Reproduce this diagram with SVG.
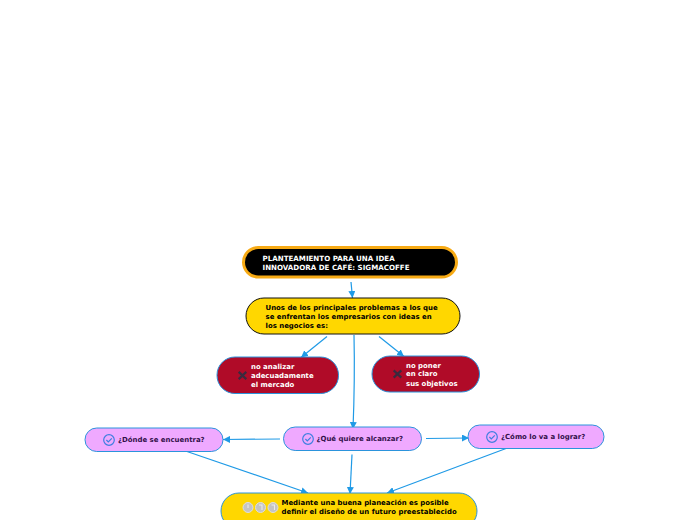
<svg xmlns="http://www.w3.org/2000/svg" width="696" height="520" viewBox="0 0 696 520">
<style>
text{font-family:"DejaVu Sans",sans-serif;font-weight:700;font-size:6.95px}
.c{fill:none;stroke:#1f9ae6;stroke-width:1.2}
.b{stroke:#2b94dc;stroke-width:1}
.p{fill:#efa9ff}
.r{fill:#b00b28}
.y{fill:#ffd700}
.pt{fill:#33104a}
.w{fill:#fff}
.k{fill:#000}
.rt{font-size:7.1px}
.ck{fill:none;stroke:#3f7fe0;stroke-width:1.2}
.x{stroke:#3a2a3e;stroke-width:2.2;fill:none}
.g{fill:#c4c4c4;stroke:#dedede;stroke-width:1}
.gl{stroke:#ececec;stroke-width:1.1;fill:none}
</style>
<defs>
<marker id="a" markerUnits="userSpaceOnUse" markerWidth="8" markerHeight="7" refX="7" refY="3.500" orient="auto"><path d="M0 0L7 3.500L0 7Z" fill="#1f9ae6"/></marker>
<g id="check"><circle r="5.300" class="ck"/><path d="M-2.600 0L-0.700 1.900L2.800 -1.700" class="ck"/></g>
<g id="cross"><path d="M-3.800 -3.600L3.800 3.600M3.800 -3.600L-3.800 3.600" class="x"/></g>
</defs>
<g id="connectors">
<path class="c" d="M351 282L352.500 298" marker-end="url(#a)"/>
<path class="c" d="M327 336.500L301 357.500" marker-end="url(#a)"/>
<path class="c" d="M379 336.500L404 356.500" marker-end="url(#a)"/>
<path class="c" d="M354 335Q355 380 353 429" marker-end="url(#a)"/>
<path class="c" d="M280 439L223 439.500" marker-end="url(#a)"/>
<path class="c" d="M426 438.500L469 438" marker-end="url(#a)"/>
<path class="c" d="M187 451.500L308 493" marker-end="url(#a)"/>
<path class="c" d="M352 454.500L350 494" marker-end="url(#a)"/>
<path class="c" d="M506 448.500L387 493" marker-end="url(#a)"/>
</g>
<g id="root">
<rect x="243.500" y="247.500" width="213" height="29.500" rx="14.700" fill="#000" stroke="#f7aa14" stroke-width="3"/>
<text class="w rt" x="262.500" y="260.500">PLANTEAMIENTO PARA UNA IDEA</text>
<text class="w rt" x="262.500" y="269.500">INNOVADORA DE CAFÉ: SIGMACOFFE</text>
</g>
<g id="problemas">
<rect class="y" x="246" y="298" width="214" height="36" rx="18" stroke="#111" stroke-width="1"/>
<text class="k" x="265.500" y="310">Unos de los principales problemas a los que</text>
<text class="k" x="265.500" y="319">se enfrentan los empresarios con ideas en</text>
<text class="k" x="265.500" y="328">los negocios es:</text>
</g>
<g id="mercado">
<rect class="r b" x="217" y="357" width="121.500" height="36.500" rx="18"/>
<use href="#cross" x="242.500" y="375.500"/>
<text class="w" x="251" y="369">no analizar</text>
<text class="w" x="251" y="378">adecuadamente</text>
<text class="w" x="251" y="387">el mercado</text>
</g>
<g id="objetivos">
<rect class="r b" x="372" y="356" width="107.500" height="36" rx="18"/>
<use href="#cross" x="397.500" y="374"/>
<text class="w" x="406" y="368">no poner</text>
<text class="w" x="406" y="376">en claro</text>
<text class="w" x="406" y="385.500">sus objetivos</text>
</g>
<g id="donde">
<rect class="p b" x="85" y="428" width="138" height="23.500" rx="11.700"/>
<use href="#check" x="109" y="440"/>
<text class="pt" x="118" y="442">¿Dónde se encuentra?</text>
</g>
<g id="que">
<rect class="p b" x="283.500" y="427" width="138" height="23.500" rx="11.700"/>
<use href="#check" x="308" y="439"/>
<text class="pt" x="316.500" y="441">¿Qué quiere alcanzar?</text>
</g>
<g id="como">
<rect class="p b" x="468" y="425" width="136" height="23.500" rx="11.700"/>
<use href="#check" x="492" y="437"/>
<text class="pt" x="501" y="439">¿Cómo lo va a lograr?</text>
</g>
<g id="planeacion">
<rect class="y b" x="221" y="493" width="256" height="36" rx="18"/>
<circle class="g" cx="248" cy="507.500" r="5"/><path class="gl" d="M248 504.500V508"/>
<circle class="g" cx="260.500" cy="507.500" r="5"/><path class="gl" d="M259 505H262V510"/>
<circle class="g" cx="273" cy="507.500" r="5"/><path class="gl" d="M271.500 505H274.500V510"/>
<text class="k" x="281.500" y="505">Mediante una buena planeación es posible</text>
<text class="k" x="281.500" y="514">definir el diseño de un futuro preestablecido</text>
</g>
</svg>
